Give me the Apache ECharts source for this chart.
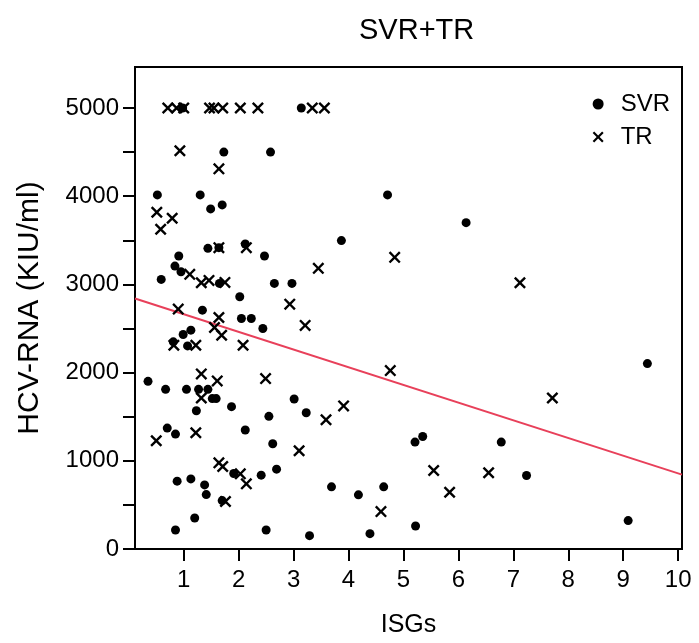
<!DOCTYPE html>
<html>
<head>
<meta charset="utf-8">
<script src="https://cdn.jsdelivr.net/npm/echarts@6/dist/echarts.min.js"></script>
<style>html,body{margin:0;padding:0;background:#fff}#c{width:699px;height:643px}</style>
</head>
<body>
<div id="c"></div>
<script>
const svrX = [0.98,3.14,1.73,2.58,0.52,1.30,1.49,1.70,4.71,6.14,1.44,1.64,2.12,0.91,2.47,0.84,0.95,0.59,1.65,2.65,2.97,3.87,2.02,1.34,2.05,2.23,2.44,1.13,0.99,0.81,1.07,0.35,0.67,1.05,1.27,1.44,1.52,1.59,1.23,1.87,2.55,3.01,3.23,0.70,0.85,2.12,2.62,1.91,2.41,2.69,0.88,1.13,1.38,1.41,1.70,1.20,0.85,2.50,3.29,9.44,5.21,5.35,6.78,3.69,4.18,4.64,5.22,4.39,7.24,9.09];
const svrY = [5000,5000,4500,4500,4015,4015,3856,3901,4015,3700,3409,3417,3458,3322,3322,3208,3144,3057,3011,3011,3011,3497,2860,2708,2614,2614,2500,2481,2432,2349,2303,1901,1810,1810,1810,1810,1705,1705,1568,1614,1504,1701,1545,1371,1303,1349,1193,856,837,905,769,795,727,617,549,352,216,216,151,2102,1212,1276,1212,705,614,705,261,174,833,322];
const trX = [0.71,0.87,1.00,1.47,1.55,1.71,2.03,2.35,3.34,3.56,0.93,1.64,0.51,0.79,0.58,1.64,2.14,1.11,1.32,1.46,1.75,3.45,0.90,2.93,1.64,1.56,1.69,3.21,0.82,1.22,2.08,1.32,1.61,2.49,4.84,4.76,7.12,1.32,0.50,1.22,3.10,1.64,1.71,2.03,2.14,1.76,3.59,3.91,5.55,6.55,5.84,4.59,7.71];
const trY = [5000,5000,5000,5000,5000,5000,5000,5000,5000,5000,4515,4310,3818,3750,3625,3417,3417,3114,3019,3045,3023,3182,2720,2776,2625,2511,2424,2535,2310,2310,2310,1985,1906,1932,3307,2023,3019,1712,1227,1318,1114,977,935,852,739,538,1466,1622,890,864,644,424,1712];
const fitX = [0.113, 10.07];
const fitY = [2840, 843];
const xTicks = [1,2,3,4,5,6,7,8,9,10];
const yTicks = [0,500,1000,1500,2000,2500,3000,3500,4000,4500,5000];
const yLabels = [0,1000,2000,3000,4000,5000];

const FONT = '"Liberation Sans", Arial, sans-serif';
const xPath = 'path://M0,1.4L1.4,0L5,3.6L8.6,0L10,1.4L6.4,5L10,8.6L8.6,10L5,6.4L1.4,10L0,8.6L3.6,5Z';

const chart = echarts.init(document.getElementById('c'), null, {renderer: 'canvas'});
chart.setOption({
  animation: false,
  backgroundColor: '#fff',
  title: {
    text: 'SVR+TR', left: 354, top: 11,
    textStyle: {fontFamily: FONT, fontSize: 29, fontWeight: 'normal', color: '#000'}
  },
  legend: {
    orient: 'vertical', right: 24, top: 87, itemGap: 9,
    itemWidth: 11, itemHeight: 11,
    textStyle: {fontFamily: FONT, fontSize: 24, color: '#000', padding: [0, 0, 0, 12]},
    data: ['SVR', 'TR']
  },
  grid: {left: 135, right: 17, top: 67, bottom: 94, show: true, borderColor: '#000', borderWidth: 2, backgroundColor: 'transparent'},
  xAxis: {
    type: 'value', min: 0.113, max: 10.07,
    name: 'ISGs', nameLocation: 'middle', nameGap: 64,
    nameTextStyle: {fontFamily: FONT, fontSize: 25, color: '#000'},
    axisLine: {show: true, onZero: false, lineStyle: {color: '#000', width: 2}},
    axisTick: {show: true, length: 12, customValues: xTicks, lineStyle: {color: '#000', width: 2}},
    axisLabel: {customValues: xTicks, fontFamily: FONT, fontSize: 24, color: '#000', margin: 19},
    splitLine: {show: false}
  },
  yAxis: {
    type: 'value', min: 0, max: 5465,
    name: 'HCV-RNA (KIU/ml)', nameLocation: 'middle', nameGap: 90,
    nameTextStyle: {fontFamily: FONT, fontSize: 30, color: '#000'},
    axisLine: {show: true, onZero: false, lineStyle: {color: '#000', width: 2}},
    axisTick: {show: true, length: 12, customValues: yTicks, lineStyle: {color: '#000', width: 2}},
    axisLabel: {customValues: yLabels, formatter: v => String(v), fontFamily: FONT, fontSize: 24, color: '#000', margin: 16},
    splitLine: {show: false}
  },
  series: [
    {
      name: 'SVR', type: 'scatter', symbol: 'circle', symbolSize: 9,
      itemStyle: {color: '#000', opacity: 1},
      data: svrX.map((x, i) => [x, svrY[i]]), z: 3
    },
    {
      name: 'TR', type: 'scatter', symbol: xPath, symbolSize: 12,
      itemStyle: {color: '#000', opacity: 1},
      data: trX.map((x, i) => [x, trY[i]]), z: 3
    },
    {
      name: 'fit', type: 'line', symbol: 'none', silent: true,
      lineStyle: {color: '#e8405a', width: 2},
      data: fitX.map((x, i) => [x, fitY[i]]), z: 2
    }
  ]
});
</script>
</body>
</html>
